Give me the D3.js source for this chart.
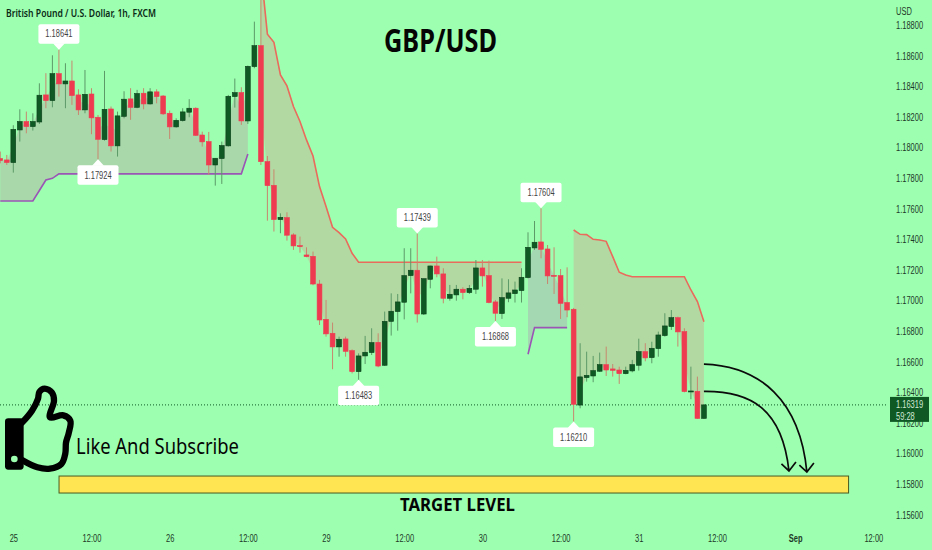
<!DOCTYPE html>
<html>
<head>
<meta charset="utf-8">
<script src="https://cdn.jsdelivr.net/npm/d3@7"></script>
<style>
  html, body { margin: 0; padding: 0; background: #9dffb0; }
  svg { display: block; }
  text { font-family: "Liberation Sans", sans-serif; }
</style>
</head>
<body>
<div id="chart"></div>
<script>
'use strict'

// bar 0 is the 25th 00:00, one bar per hour
const firstBar = -2
const opens = [
  1.17929, 1.17920, 1.17903, 1.18116, 1.18171, 1.18138, 1.18168, 1.18345, 1.18308, 1.18484,
  1.18417, 1.18436, 1.18345, 1.18247, 1.18351, 1.18199, 1.18053, 1.18253, 1.18012, 1.18205,
  1.18319, 1.18264, 1.18356, 1.18286, 1.18365, 1.18338, 1.18225, 1.18136, 1.18177, 1.18232,
  1.18258, 1.18083, 1.18040, 1.17887, 1.17929, 1.18012, 1.18334, 1.18360, 1.18175, 1.18530,
  1.18667, 1.17909, 1.17754, 1.17530, 1.17543, 1.17430, 1.17360, 1.17299, 1.17290, 1.17109,
  1.16878, 1.16787, 1.16698, 1.16750, 1.16674, 1.16536, 1.16639, 1.16661, 1.16728, 1.16578,
  1.16865, 1.16929, 1.16990, 1.17164, 1.17199, 1.16913, 1.17140, 1.17227, 1.17175, 1.17016,
  1.17038, 1.17075, 1.17053, 1.17075, 1.17214, 1.17164, 1.16992, 1.16916, 1.17016, 1.17046,
  1.17066, 1.17151, 1.17345, 1.17384, 1.17338, 1.17166, 1.17164, 1.16988, 1.16944, 1.16318,
  1.16497, 1.16508, 1.16539, 1.16582, 1.16554, 1.16547, 1.16523, 1.16541, 1.16578, 1.16667,
  1.16628, 1.16687, 1.16772, 1.16831, 1.16889, 1.16798, 1.16406, 1.16408, 1.16231
]
const highs = [
  1.17975, 1.17953, 1.18147, 1.18251, 1.18236, 1.18225, 1.18421, 1.18487, 1.18604, 1.18641,
  1.18552, 1.18569, 1.18382, 1.18508, 1.18389, 1.18214, 1.18502, 1.18269, 1.18236, 1.18369,
  1.18389, 1.18378, 1.18389, 1.18389, 1.18382, 1.18343, 1.18243, 1.18192, 1.18258, 1.18317,
  1.18264, 1.18105, 1.18103, 1.17931, 1.18040, 1.18345, 1.18452, 1.18395, 1.18537, 1.18824,
  1.19075, 1.17946, 1.17859, 1.17571, 1.17578, 1.17441, 1.17419, 1.17349, 1.17321, 1.17136,
  1.17005, 1.16857, 1.16765, 1.16765, 1.16682, 1.16656, 1.16770, 1.16820, 1.16787, 1.16929,
  1.17048, 1.17044, 1.17343, 1.17343, 1.17439, 1.17144, 1.17229, 1.17288, 1.17212, 1.17103,
  1.17103, 1.17088, 1.17103, 1.17266, 1.17266, 1.17262, 1.17005, 1.17146, 1.17140, 1.17125,
  1.17212, 1.17447, 1.17521, 1.17604, 1.17364, 1.17349, 1.17207, 1.17218, 1.16953, 1.16722,
  1.16667, 1.16639, 1.16661, 1.16700, 1.16586, 1.16569, 1.16569, 1.16613, 1.16752, 1.16722,
  1.16732, 1.16798, 1.16918, 1.16939, 1.16896, 1.16820, 1.16569, 1.16504, 1.16323
]
const lows = [
  1.17898, 1.17887, 1.17837, 1.18040, 1.18094, 1.18112, 1.18155, 1.18258, 1.18264, 1.18334,
  1.18258, 1.18280, 1.18214, 1.18225, 1.18088, 1.17924, 1.18046, 1.17975, 1.17942, 1.18192,
  1.18182, 1.18258, 1.18251, 1.18282, 1.18290, 1.18214, 1.18057, 1.18131, 1.18171, 1.18199,
  1.18077, 1.18007, 1.17822, 1.17752, 1.17763, 1.18007, 1.18262, 1.18149, 1.18155, 1.18519,
  1.17887, 1.17523, 1.17452, 1.17441, 1.17393, 1.17332, 1.17314, 1.17284, 1.17101, 1.16841,
  1.16765, 1.16552, 1.16634, 1.16634, 1.16525, 1.16483, 1.16586, 1.16645, 1.16565, 1.16573,
  1.16772, 1.16804, 1.16878, 1.17048, 1.16857, 1.16907, 1.17081, 1.17153, 1.16983, 1.17000,
  1.17000, 1.17009, 1.17044, 1.17044, 1.17092, 1.16983, 1.16868, 1.16881, 1.16990, 1.16988,
  1.16988, 1.17146, 1.17332, 1.17277, 1.17109, 1.17044, 1.16881, 1.16892, 1.16210, 1.16297,
  1.16471, 1.16467, 1.16534, 1.16508, 1.16504, 1.16456, 1.16519, 1.16532, 1.16543, 1.16604,
  1.16591, 1.16634, 1.16765, 1.16809, 1.16700, 1.16401, 1.16356, 1.16227, 1.16227
]
const closes = [
  1.17916, 1.17903, 1.18120, 1.18171, 1.18138, 1.18171, 1.18343, 1.18308, 1.18484, 1.18417,
  1.18436, 1.18341, 1.18247, 1.18349, 1.18195, 1.18055, 1.18251, 1.18012, 1.18208, 1.18317,
  1.18264, 1.18354, 1.18286, 1.18365, 1.18334, 1.18221, 1.18136, 1.18179, 1.18234, 1.18258,
  1.18081, 1.18038, 1.17887, 1.17931, 1.18014, 1.18336, 1.18360, 1.18175, 1.18532, 1.18667,
  1.17909, 1.17752, 1.17530, 1.17545, 1.17428, 1.17358, 1.17353, 1.17288, 1.17109, 1.16874,
  1.16783, 1.16698, 1.16748, 1.16669, 1.16536, 1.16639, 1.16663, 1.16726, 1.16573, 1.16865,
  1.16931, 1.16992, 1.17164, 1.17199, 1.16913, 1.17144, 1.17227, 1.17175, 1.17016, 1.17042,
  1.17075, 1.17053, 1.17081, 1.17214, 1.17162, 1.16988, 1.16918, 1.17020, 1.17051, 1.17070,
  1.17153, 1.17349, 1.17382, 1.17336, 1.17162, 1.17162, 1.16983, 1.16939, 1.16323, 1.16502,
  1.16512, 1.16543, 1.16582, 1.16547, 1.16545, 1.16523, 1.16545, 1.16582, 1.16667, 1.16626,
  1.16689, 1.16776, 1.16835, 1.16889, 1.16796, 1.16406, 1.16410, 1.16231, 1.16319
]

// supertrend stretches, each one starts at the bar named with it
const upTrendAStart = -2
const upTrendA = [
  1.17652, 1.17652, 1.17652, 1.17652, 1.17652, 1.17652, 1.17720, 1.17789, 1.17800,
  1.17829, 1.17829, 1.17829, 1.17829, 1.17829, 1.17829, 1.17829, 1.17829, 1.17829, 1.17829,
  1.17829, 1.17829, 1.17829, 1.17829, 1.17829, 1.17829, 1.17829, 1.17829, 1.17829, 1.17829,
  1.17829, 1.17829, 1.17829, 1.17829, 1.17829, 1.17829, 1.17829, 1.17829, 1.17829, 1.17959
]
const downTrendAStart = 38
const downTrendA = [
  1.19162, 1.18742, 1.18689, 1.18476, 1.18404, 1.18269, 1.18171, 1.18051, 1.17946, 1.17746,
  1.17615, 1.17480, 1.17445, 1.17404, 1.17310, 1.17251, 1.17251, 1.17251, 1.17251, 1.17251,
  1.17251, 1.17251, 1.17251, 1.17251, 1.17251, 1.17251, 1.17251, 1.17251, 1.17251, 1.17251,
  1.17251, 1.17251, 1.17251, 1.17251, 1.17251, 1.17251, 1.17251, 1.17251, 1.17251, 1.17251, 1.17251
]
const upTrendBStart = 79
const upTrendB = [1.16650, 1.16824, 1.16824, 1.16824, 1.16824, 1.16824, 1.16824]
const downTrendBStart = 86
const downTrendB = [
  1.17462, 1.17434, 1.17432, 1.17401, 1.17397, 1.17388, 1.17288, 1.17186, 1.17168, 1.17157,
  1.17157, 1.17157, 1.17157, 1.17157, 1.17157, 1.17157, 1.17157, 1.17157, 1.17070, 1.16994, 1.16863
]

// high / low callouts
const pivotBars = [7, 13, 53, 62, 74, 81, 86]
const pivotPrices = [1.18641, 1.17924, 1.16483, 1.17439, 1.16868, 1.17604, 1.16210]
const pivotAbove = [true, false, false, true, false, true, false]

const priceTicks = d3.range(1.156, 1.1881, 0.002)
const timeTickBars = [0, 12, 24, 36, 48, 60, 72, 84, 96, 108, 120, 132]
const timeTickLabels = ['25', '12:00', '26', '12:00', '29', '12:00', '30', '12:00', '31', '12:00', 'Sep', '12:00']
const lastPrice = 1.16319
const countdown = '59:28'

// target zone and projection curves, in bars and prices
const zoneBars = [7.02, 128.2]
const zonePrices = [1.15854, 1.15743]
const arrowOuterBars = [106.0, 114.6, 120.75, 121.8]
const arrowOuterPrices = [1.16586, 1.16573, 1.16351, 1.15880]
const arrowInnerBars = [106.0, 113.05, 118.0, 119.05]
const arrowInnerPrices = [1.16407, 1.16410, 1.16299, 1.15887]

const width = 932
const height = 550
const axisX = 888
const background = '#9dffb0'
const red = '#ef3b50'
const green = '#0f5a24'
const ink = '#0a2a16'
const axisInk = '#1d3a28'
const labelSize = 10
const squeeze = 0.75

const x = d3.scaleLinear().domain([0, 130]).range([13.3, 860.3])
const y = d3.scaleLinear().domain([1.158, 1.188]).range([484.3, 25.3])

const svg = d3.select('#chart')
  .append('svg')
  .attr('width', width)
  .attr('height', height)
  .style('background', background)

// the source labels are narrower than any installed face
function narrow (selection) {
  selection.each(function () {
    const w = this.getComputedTextLength()
    d3.select(this)
      .attr('textLength', w * squeeze)
      .attr('lengthAdjust', 'spacingAndGlyphs')
  })
}

function drawTrend (start, values, lineColor, fillColor) {
  const rows = values.map((v, i) => {
    const bar = start + i
    const k = bar - firstBar
    return { bar, band: v, mid: (opens[k] + closes[k]) / 2 }
  })
  const area = d3.area()
    .x(d => x(d.bar))
    .y0(d => y(d.band))
    .y1(d => y(d.mid))
  svg.append('path')
    .attr('d', area(rows))
    .attr('fill', fillColor)
  const line = d3.line()
    .x(d => x(d.bar))
    .y(d => y(d.band))
  svg.append('path')
    .attr('d', line(rows))
    .attr('fill', 'none')
    .attr('stroke', lineColor)
    .attr('stroke-width', 1.6)
}

function drawCandles () {
  const bars = opens.map((o, i) => ({
    bar: firstBar + i,
    open: o,
    high: highs[i],
    low: lows[i],
    close: closes[i]
  }))
  svg.selectAll('line.wick')
    .data(bars)
    .enter()
    .append('line')
    .attr('class', 'wick')
    .attr('x1', d => x(d.bar))
    .attr('x2', d => x(d.bar))
    .attr('y1', d => y(d.high))
    .attr('y2', d => y(d.low))
    .attr('stroke', d => d.close >= d.open ? '#5c9a68' : '#c8876f')
    .attr('stroke-width', 1)
  const bodyWidth = 4.8
  svg.selectAll('rect.body')
    .data(bars)
    .enter()
    .append('rect')
    .attr('class', 'body')
    .attr('x', d => x(d.bar) - bodyWidth / 2)
    .attr('width', bodyWidth)
    .attr('y', d => y(Math.max(d.open, d.close)))
    .attr('height', d => Math.max(1, Math.abs(y(d.open) - y(d.close))))
    .attr('fill', d => d.close >= d.open ? green : red)
    .attr('stroke', d => d.close >= d.open ? '#0a3f19' : '#ef3b50')
    .attr('stroke-width', 0.6)
}

function drawPivotLabels () {
  const boxW = 41
  const boxH = 19.5
  const tip = 6
  const groups = svg.selectAll('g.pivot')
    .data(pivotBars.map((b, i) => ({ bar: b, price: pivotPrices[i], above: pivotAbove[i] })))
    .enter()
    .append('g')
    .attr('class', 'pivot')
    .attr('transform', d => `translate(${x(d.bar)},${y(d.price)})`)
  groups.append('rect')
    .attr('x', -boxW / 2)
    .attr('y', d => d.above ? -tip - boxH : tip)
    .attr('width', boxW)
    .attr('height', boxH)
    .attr('rx', 2)
    .attr('fill', '#fff')
  groups.append('path')
    .attr('d', d => {
      const s = d.above ? -1 : 1
      return `M${-tip},${s * (tip + 0.5)}L0,0L${tip},${s * (tip + 0.5)}Z`
    })
    .attr('fill', '#fff')
  groups.append('text')
    .attr('y', d => d.above ? -tip - boxH / 2 : tip + boxH / 2)
    .attr('dy', '0.35em')
    .attr('text-anchor', 'middle')
    .attr('font-size', labelSize)
    .attr('fill', '#444')
    .text(d => d.price.toFixed(5))
    .call(narrow)
}

function drawAxes () {
  const yAxis = d3.axisRight(y)
    .tickValues(priceTicks)
    .tickSize(0)
    .tickPadding(0)
    .tickFormat(d3.format('.5f'))
  const yG = svg.append('g')
    .attr('transform', 'translate(896,0)')
    .call(yAxis)
  yG.select('.domain').remove()
  yG.selectAll('text')
    .attr('font-size', labelSize)
    .attr('fill', axisInk)
    .call(narrow)

  const xAxis = d3.axisBottom(x)
    .tickValues(timeTickBars)
    .tickSize(0)
    .tickPadding(0)
    .tickFormat((d, i) => timeTickLabels[i])
  const xG = svg.append('g')
    .attr('transform', 'translate(0,534.5)')
    .call(xAxis)
  xG.select('.domain').remove()
  xG.selectAll('text')
    .attr('font-size', labelSize)
    .attr('fill', axisInk)
    .attr('font-weight', (d, i) => timeTickLabels[i] === 'Sep' ? 'bold' : 'normal')
    .call(narrow)

  svg.append('text')
    .attr('x', 896)
    .attr('y', 15)
    .attr('font-size', labelSize)
    .attr('fill', axisInk)
    .text('USD')
    .call(narrow)
}

function drawLastPrice () {
  svg.append('line')
    .attr('x1', 0)
    .attr('x2', axisX)
    .attr('y1', y(lastPrice))
    .attr('y2', y(lastPrice))
    .attr('stroke', green)
    .attr('stroke-width', 1)
    .attr('stroke-dasharray', '1 2')
  svg.append('rect')
    .attr('x', 890)
    .attr('y', y(lastPrice) - 8)
    .attr('width', 39)
    .attr('height', 25)
    .attr('fill', green)
  svg.append('text')
    .attr('x', 896)
    .attr('y', y(lastPrice) + 3.5)
    .attr('font-size', labelSize)
    .attr('fill', '#cfe8d4')
    .text(lastPrice.toFixed(5))
    .call(narrow)
  svg.append('text')
    .attr('x', 896)
    .attr('y', y(lastPrice) + 15)
    .attr('font-size', labelSize)
    .attr('fill', '#cfe8d4')
    .text(countdown)
    .call(narrow)
}

function drawArrow (bars, prices) {
  const px = bars.map(b => x(b))
  const py = prices.map(p => y(p))
  const path = d3.path()
  path.moveTo(px[0], py[0])
  path.bezierCurveTo(px[1], py[1], px[2], py[2], px[3], py[3])
  const tipX = px[3]
  const tipY = py[3]
  path.moveTo(tipX - 7.5, tipY - 7)
  path.lineTo(tipX, tipY)
  path.lineTo(tipX + 7, tipY - 9)
  svg.append('path')
    .attr('d', path.toString())
    .attr('fill', 'none')
    .attr('stroke', '#0b0b0b')
    .attr('stroke-width', 1.7)
}

function drawZone () {
  svg.append('rect')
    .attr('x', x(zoneBars[0]))
    .attr('y', y(zonePrices[0]))
    .attr('width', x(zoneBars[1]) - x(zoneBars[0]))
    .attr('height', y(zonePrices[1]) - y(zonePrices[0]))
    .attr('fill', '#ffe552')
    .attr('stroke', '#4a5a22')
    .attr('stroke-width', 1)
}

function drawThumb () {
  // outline traced on a 3x grid, scaled down
  const outline = [
    [66, 158], [96, 122], [114, 86], [118, 66], [134, 56], [156, 68], [162, 92],
    [150, 142], [190, 136], [211, 152], [206, 190], [198, 218], [196, 250], [184, 282],
    [150, 296], [112, 292], [66, 270]
  ]
  const g = svg.append('g').attr('transform', 'translate(0,370) scale(0.3333)')
  g.append('path')
    .attr('d', d3.line().curve(d3.curveCatmullRom.alpha(0.5))(outline))
    .attr('fill', 'none')
    .attr('stroke', '#000')
    .attr('stroke-width', 19)
    .attr('stroke-linejoin', 'round')
    .attr('stroke-linecap', 'round')
  g.append('rect')
    .attr('x', 15)
    .attr('y', 145)
    .attr('width', 56)
    .attr('height', 154)
    .attr('rx', 10)
    .attr('fill', '#000')
  g.append('circle')
    .attr('cx', 43)
    .attr('cy', 267)
    .attr('r', 10)
    .attr('fill', background)
}

function drawTexts () {
  svg.append('text')
    .attr('x', 6)
    .attr('y', 17)
    .style('font-family', '"Noto Sans", sans-serif')
    .attr('font-weight', 600)
    .attr('font-size', 11)
    .attr('textLength', 150)
    .attr('lengthAdjust', 'spacingAndGlyphs')
    .attr('fill', ink)
    .text('British Pound / U.S. Dollar, 1h, FXCM')
  svg.append('text')
    .attr('x', 384)
    .attr('y', 52)
    .style('font-family', '"Noto Sans", sans-serif')
    .attr('font-weight', 'bold')
    .attr('font-size', 33)
    .attr('textLength', 113)
    .attr('lengthAdjust', 'spacingAndGlyphs')
    .attr('fill', '#050505')
    .text('GBP/USD')
  svg.append('text')
    .attr('x', 76)
    .attr('y', 454)
    .style('font-family', '"Noto Sans", sans-serif')
    .attr('font-size', 22)
    .attr('textLength', 163)
    .attr('lengthAdjust', 'spacingAndGlyphs')
    .attr('fill', '#050505')
    .text('Like And Subscribe')
  svg.append('text')
    .attr('x', 400)
    .attr('y', 511)
    .style('font-family', '"Noto Sans", sans-serif')
    .attr('font-weight', 'bold')
    .attr('font-size', 18)
    .attr('textLength', 115)
    .attr('lengthAdjust', 'spacingAndGlyphs')
    .attr('fill', '#050505')
    .text('TARGET LEVEL')
}

// Entry point
drawAxes()
drawLastPrice()
drawTrend(upTrendAStart, upTrendA, '#9a55b5', '#a9d8ab')
drawTrend(downTrendAStart, downTrendA, '#ea6a5c', '#b3d9a2')
drawTrend(upTrendBStart, upTrendB, '#9a55b5', '#a4d8b2')
drawTrend(downTrendBStart, downTrendB, '#ea6a5c', '#b3d9a2')
drawCandles()
drawPivotLabels()
drawZone()
drawArrow(arrowOuterBars, arrowOuterPrices)
drawArrow(arrowInnerBars, arrowInnerPrices)
drawThumb()
drawTexts()
</script>
</body>
</html>
